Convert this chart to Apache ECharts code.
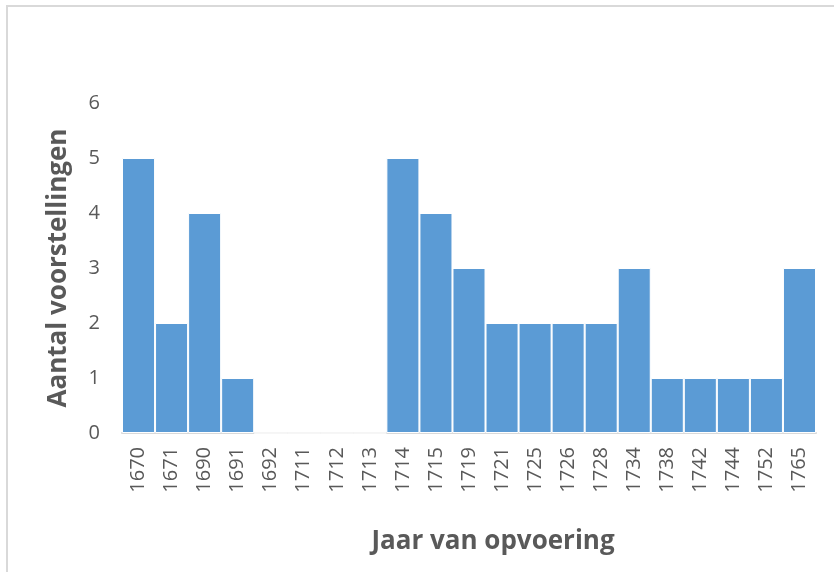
<!DOCTYPE html>
<html>
<head>
<meta charset="utf-8">
<script src="https://cdn.jsdelivr.net/npm/echarts@6/dist/echarts.min.js"></script>
<style>
  html, body { margin: 0; padding: 0; background: #fff; }
  #frame { position: absolute; left: 6px; top: 5px; width: 840px; height: 580px;
           border: 2px solid #D9D9D9; box-sizing: border-box; }
  #chart { position: absolute; left: 0; top: 0; width: 834px; height: 572px; }
</style>
</head>
<body>
<div id="frame"></div>
<div id="chart"></div>
<script>
// Opvoeringsjaren en aantal voorstellingen per jaar
const years = ['1670','1671','1690','1691','1692','1711','1712','1713','1714','1715',
               '1719','1721','1725','1726','1728','1734','1738','1742','1744','1752','1765'];
const counts = [5, 2, 4, 1, 0, 0, 0, 0, 5, 4, 3, 2, 2, 2, 2, 3, 1, 1, 1, 1, 3];
const yTicks = [0, 1, 2, 3, 4, 5, 6];

const xTitle = 'Jaar van opvoering';
const yTitle = 'Aantal voorstellingen';

const font = '"Open Sans", "Noto Sans", sans-serif';
const chart = echarts.init(document.getElementById('chart'), null, { renderer: 'canvas' });

chart.setOption({
  animation: false,
  textStyle: { fontFamily: font },
  grid: { left: 122, right: 18, top: 103, bottom: 139, containLabel: false },
  xAxis: {
    type: 'category',
    data: years,
    axisLine: { lineStyle: { color: '#D9D9D9', width: 2 } },
    axisTick: { show: false },
    axisLabel: { rotate: 90, color: '#595959', fontSize: 20, fontFamily: font, margin: 14, interval: 0 },
    name: xTitle,
    nameLocation: 'middle',
    nameGap: 96,
    nameTextStyle: { color: '#595959', fontSize: 26, fontWeight: 'bold', fontFamily: font,
                     padding: [0, 0, 0, 48] }
  },
  yAxis: {
    type: 'value',
    min: yTicks[0],
    max: yTicks[yTicks.length - 1],
    interval: 1,
    splitLine: { show: false },
    axisLine: { show: false },
    axisTick: { show: false },
    axisLabel: { color: '#595959', fontSize: 20, fontFamily: font, margin: 22 },
    name: yTitle,
    nameLocation: 'middle',
    nameGap: 50,
    nameTextStyle: { color: '#595959', fontSize: 26, fontWeight: 'bold', fontFamily: font }
  },
  series: [{
    type: 'bar',
    data: counts,
    barCategoryGap: 0,
    itemStyle: { color: '#5B9BD5', borderColor: '#FFFFFF', borderWidth: 1 }
  }]
});
</script>
</body>
</html>
